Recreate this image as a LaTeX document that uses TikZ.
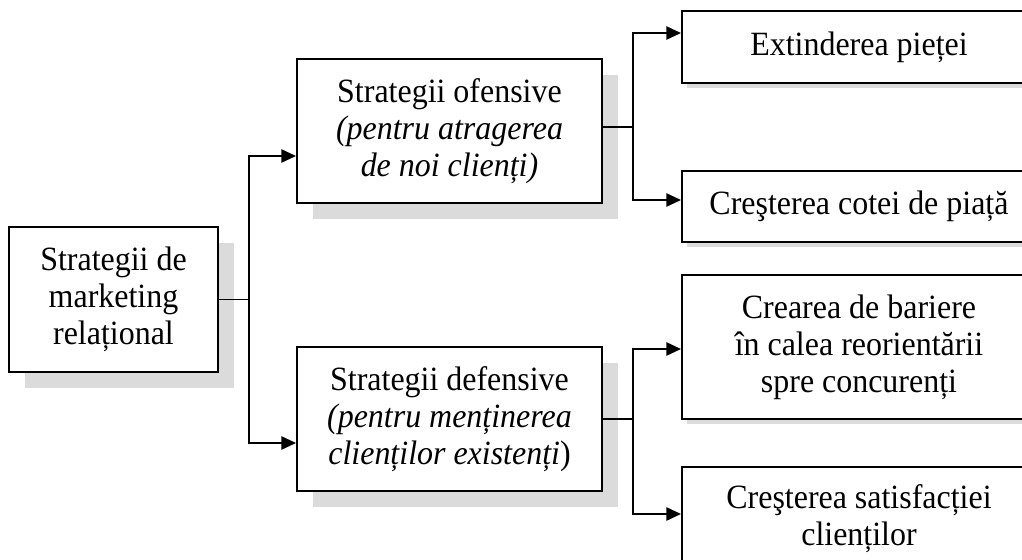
\documentclass[tikz,border=0pt]{standalone}
\usepackage{fontspec}
\setmainfont{Liberation Serif}[FakeStretch=0.94]
\usetikzlibrary{arrows.meta,shadows}
\begin{document}
\begin{tikzpicture}[x=0.75pt,y=-0.75pt,
  box/.style={draw, line width=1.5pt, fill=white, align=center,
    font=\fontsize{25.5}{27.75}\selectfont, inner sep=0pt},
  bigshadow/.style={general shadow={fill=black!14, shadow xshift=12pt, shadow yshift=-12pt}},
  smallshadow/.style={general shadow={fill=black!14, shadow xshift=4pt, shadow yshift=-4pt}},
  conn/.style={line width=1.2pt},
  arr/.style={conn, -{Triangle[length=11pt,width=10pt]}}]
\useasboundingbox (0,0) rectangle (1022,560);
\clip (0,0) rectangle (1022,560);

% boxes
\node[box, bigshadow, minimum width=156.75pt, minimum height=108.75pt] (L) at (113.5,299.5)
  {Strategii de\\marketing\\relațional};
\node[box, bigshadow, minimum width=228.75pt, minimum height=108pt] (O) at (449.5,131)
  {Strategii ofensive\\\textit{(pentru atragerea}\\\textit{de noi clienți)}};
\node[box, bigshadow, minimum width=228.75pt, minimum height=108pt] (D) at (449.5,419)
  {Strategii defensive\\\textit{(pentru menținerea}\\\textit{clienților existenți})};

\node[box, smallshadow, minimum width=265.5pt, minimum height=54pt] (R1) at (859,47)
  {Extinderea pieței};
\node[box, smallshadow, minimum width=265.5pt, minimum height=53.25pt] (R2) at (859,206.5)
  {Creşterea cotei de piață};
\node[box, smallshadow, minimum width=265.5pt, minimum height=108pt] (R3) at (859,347)
  {Crearea de bariere\\în calea reorientării\\spre concurenți};
\node[box, smallshadow, minimum width=265.5pt, minimum height=77.25pt] (R4) at (859,518.5)
  {Creşterea satisfacției\\clienților};

% junction points and arrow levels
\coordinate (j1) at (249,299.5);
\coordinate (j2) at (633,127);
\coordinate (j3) at (633,419);
\coordinate (yO) at (0,156);
\coordinate (yD) at (0,443);
\coordinate (y1) at (0,33);
\coordinate (y2) at (0,200);
\coordinate (y3) at (0,349);
\coordinate (y4) at (0,514);

% connectors
\draw[conn] (L.east) -- (j1);
\draw[arr] (j1) |- (O.west |- yO);
\draw[arr] (j1) |- (D.west |- yD);

\draw[conn] (O.east |- j2) -- (j2);
\draw[arr] (j2) |- (R1.west |- y1);
\draw[arr] (j2) |- (R2.west |- y2);

\draw[conn] (D.east) -- (j3);
\draw[arr] (j3) |- (R3.west |- y3);
\draw[arr] (j3) |- (R4.west |- y4);
\end{tikzpicture}
\end{document}
